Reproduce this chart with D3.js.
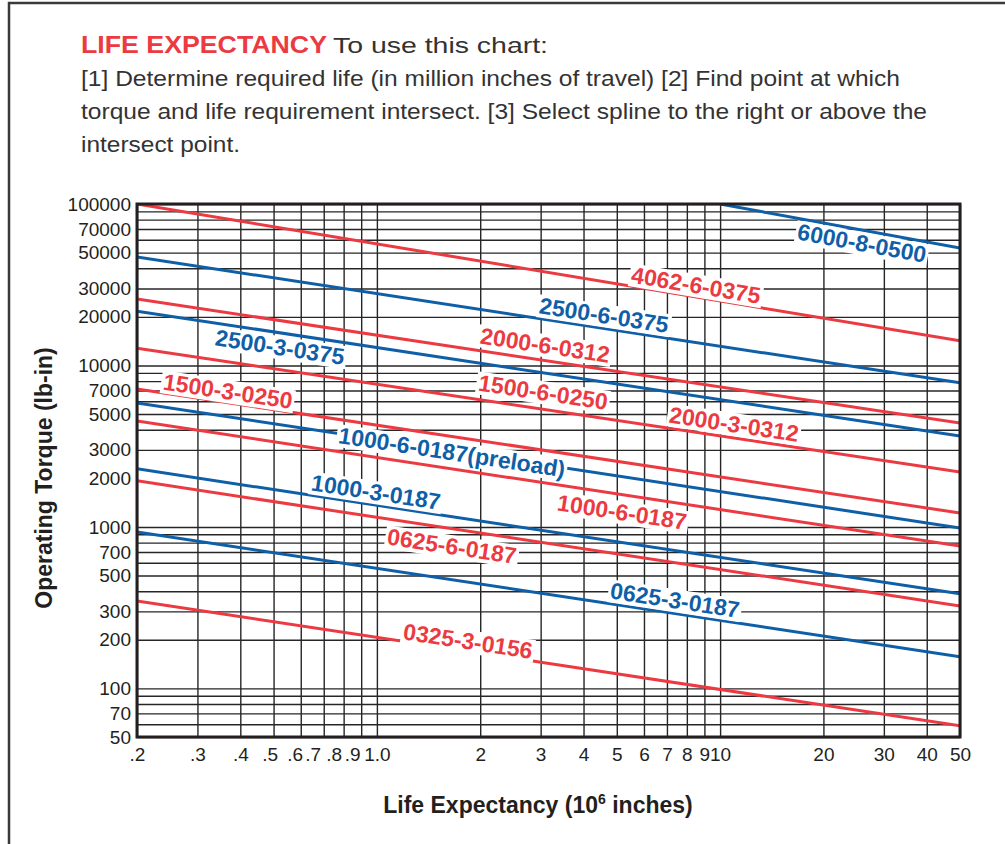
<!DOCTYPE html>
<html>
<head>
<meta charset="utf-8">
<script src="https://cdn.jsdelivr.net/npm/d3@7"></script>
<style>
  body { margin: 0; background: #fff; }
  svg text { font-family: "Liberation Sans", Arial, Helvetica, sans-serif; }
  .grid line { stroke: #262626; stroke-width: 1.4; }
  .grid path { display: none; }
  .ticks path { display: none; }
  .ticks text { font-size: 19px; fill: #231f20; }
</style>
</head>
<body>
<svg id="chart" width="1005" height="844"></svg>
<script>
// x axis: life expectancy (10^6 inches)
const xTicks = [0.2, 0.3, 0.4, 0.5, 0.6, 0.7, 0.8, 0.9, 1, 2, 3, 4, 5, 6, 7, 8, 9, 10, 20, 30, 40, 50];
const xTickLabels = ['.2', '.3', '.4', '.5', '.6', '.7', '.8', '.9', '1.0', '2', '3', '4', '5', '6', '7', '8', '9', '10', '20', '30', '40', '50'];

// y axis: operating torque (lb-in)
const yTicks = [100000, 70000, 50000, 30000, 20000, 10000, 7000, 5000, 3000, 2000, 1000, 700, 500, 300, 200, 100, 70, 50];
const yGrid = [100000, 90000, 80000, 70000, 60000, 50000, 40000, 30000, 20000,
               10000, 9000, 8000, 7000, 6000, 5000, 4000, 3000,
               1000, 900, 800, 700, 600, 500, 400, 300, 200,
               100, 90, 80, 70, 60, 50];

// spline lines, two end points each (life, torque)
const lineGroup   = ['B', 'R', 'B', 'R', 'B', 'R', 'R', 'B', 'R', 'B', 'R', 'B', 'R'];
const lifeStart   = [10, 0.2, 0.2, 0.2, 0.2, 0.2, 0.2, 0.2, 0.2, 0.2, 0.2, 0.2, 0.2];
const torqueStart = [100000, 100000, 47000, 25800, 21700, 12800, 7150, 5860, 4530, 2290, 1930, 931, 348];
const lifeEnd     = [50, 50, 50, 50, 50, 50, 50, 50, 50, 50, 50, 50, 50];
const torqueEnd   = [53400, 14200, 7800, 4400, 3660, 2190, 1220, 986, 762, 385, 324, 157, 58.6];

// labels: text, which line they belong to, where they sit (life, torque)
const labelText   = ['6000-8-0500', '4062-6-0375', '2500-6-0375', '2000-6-0312', '2500-3-0375',
                     '1500-6-0250', '2000-3-0312', '1500-3-0250', '1000-6-0187(preload)',
                     '1000-6-0187', '1000-3-0187', '0625-6-0187', '0625-3-0187', '0325-3-0156'];
const labelLine   = [0, 1, 2, 3, 4, 5, 5, 6, 7, 8, 9, 10, 11, 12];
const labelLife   = [25.9, 8.51, 4.59, 3.09, 0.522, 3.05, 10.98, 0.368, 1.655, 5.18, 0.994, 1.655, 7.39, 1.843];
const labelTorque = [57350, 31520, 20550, 13400, 13020, 6855, 4343, 6950, 2913, 1239, 1647, 762, 353, 197];

(function () {
    'use strict';

    const color = d3.scaleOrdinal().domain(['R', 'B']).range(['#ec3a42', '#0f5fa8']);

    const svg = d3.select('#chart');
    const pLeft = 137, pRight = 960, pTop = 204, pBottom = 737;

    const x = d3.scaleLog().domain([0.2, 50]).range([pLeft, pRight]);
    const y = d3.scaleLog().domain([50, 100000]).range([pBottom, pTop]);

    // page frame
    svg.append('path')
        .attr('d', 'M9,844 V3 H1005')
        .attr('fill', 'none')
        .attr('stroke', '#3a3a3a')
        .attr('stroke-width', 2.5);

    // heading text
    const head = svg.append('g').attr('fill', '#333');
    head.append('text')
        .attr('x', 81).attr('y', 53)
        .attr('font-size', 23).attr('font-weight', 'bold').attr('fill', '#ec3a42')
        .attr('textLength', 246).attr('lengthAdjust', 'spacingAndGlyphs')
        .text('LIFE EXPECTANCY');
    head.append('text').attr('x', 333).attr('y', 53).attr('font-size', 22)
        .attr('textLength', 215).attr('lengthAdjust', 'spacingAndGlyphs')
        .text('To use this chart:');

    const para = [
        ['[1] Determine required life (in million inches of travel) [2] Find point at which', 86, 819],
        ['torque and life requirement intersect. [3] Select spline to the right or above the', 119, 846],
        ['intersect point.', 152, 159]
    ];
    para.forEach(p => {
        head.append('text')
            .attr('x', 81).attr('y', p[1])
            .attr('font-size', 22)
            .attr('textLength', p[2]).attr('lengthAdjust', 'spacingAndGlyphs')
            .text(p[0]);
    });

    // grid
    svg.append('g')
        .attr('class', 'grid')
        .attr('transform', `translate(0, ${pBottom})`)
        .call(d3.axisBottom(x).tickValues(xTicks).tickSize(-(pBottom - pTop)).tickFormat(''));

    svg.append('g')
        .attr('class', 'grid')
        .attr('transform', `translate(${pLeft}, 0)`)
        .call(d3.axisLeft(y).tickValues(yGrid).tickSize(-(pRight - pLeft)).tickFormat(''));

    // tick labels
    const xAxisG = svg.append('g')
        .attr('class', 'ticks')
        .attr('transform', `translate(0, ${pBottom})`)
        .call(d3.axisBottom(x).tickValues(xTicks).tickSize(0).tickPadding(11)
            .tickFormat((d, i) => xTickLabels[i]));

    // the small labels under .5 - .9 sit a bit left of their lines, as in print
    const nudge = { '.5': -4, '.6': -6, '.7': -11, '.8': -10, '.9': -9, '1.0': 0 };
    xAxisG.selectAll('.tick text')
        .attr('dx', d => nudge[xTickLabels[xTicks.indexOf(d)]] || 0);

    svg.append('g')
        .attr('class', 'ticks')
        .attr('transform', `translate(${pLeft}, 0)`)
        .call(d3.axisLeft(y).tickValues(yTicks).tickSize(0).tickPadding(6)
            .tickFormat(d => d));

    svg.selectAll('.ticks').attr('font-family', null).attr('font-size', null);

    // clip for the lines
    svg.append('clipPath').attr('id', 'plotclip')
        .append('rect')
        .attr('x', pLeft).attr('y', pTop)
        .attr('width', pRight - pLeft).attr('height', pBottom - pTop);

    const lines = lineGroup.map((g, i) => ({
        group: g,
        pts: [[lifeStart[i], torqueStart[i]], [lifeEnd[i], torqueEnd[i]]]
    }));

    const lineGen = d3.line().x(d => x(d[0])).y(d => y(d[1]));

    svg.append('g')
        .attr('clip-path', 'url(#plotclip)')
        .selectAll('path')
        .data(lines)
        .enter()
        .append('path')
        .attr('d', d => lineGen(d.pts))
        .attr('fill', 'none')
        .attr('stroke', d => color(d.group))
        .attr('stroke-width', 3);

    // labels along the lines, white box behind
    const labelG = svg.append('g');
    labelText.forEach((t, i) => {
        const ln = lines[labelLine[i]];
        const dx = x(ln.pts[1][0]) - x(ln.pts[0][0]);
        const dy = y(ln.pts[1][1]) - y(ln.pts[0][1]);
        const angle = Math.atan2(dy, dx) * 180 / Math.PI;

        const g = labelG.append('g')
            .attr('transform', `translate(${x(labelLife[i])}, ${y(labelTorque[i])}) rotate(${angle})`);
        const box = g.append('rect').attr('fill', '#fff');
        const txt = g.append('text')
            .attr('text-anchor', 'middle')
            .attr('dy', '0.36em')
            .attr('font-size', 23)
            .attr('font-weight', 'bold')
            .attr('fill', color(ln.group))
            .text(t);
        const bb = txt.node().getBBox();
        box.attr('x', bb.x - 2).attr('y', bb.y + 2)
            .attr('width', bb.width + 4).attr('height', bb.height - 3);
    });

    // plot frame
    svg.append('rect')
        .attr('x', pLeft).attr('y', pTop)
        .attr('width', pRight - pLeft).attr('height', pBottom - pTop)
        .attr('fill', 'none')
        .attr('stroke', '#231f20')
        .attr('stroke-width', 3);

    // axis titles
    svg.append('text')
        .attr('transform', `translate(52, 478) rotate(-90)`)
        .attr('text-anchor', 'middle')
        .attr('font-size', 23)
        .attr('font-weight', 'bold')
        .attr('fill', '#231f20')
        .text('Operating Torque (lb-in)');

    const xt = svg.append('text')
        .attr('x', 538).attr('y', 813)
        .attr('text-anchor', 'middle')
        .attr('font-size', 23)
        .attr('font-weight', 'bold')
        .attr('fill', '#231f20');
    xt.append('tspan').text('Life Expectancy (10');
    xt.append('tspan').attr('font-size', 14).attr('dy', -9).text('6');
    xt.append('tspan').attr('dy', 9).text(' inches)');
}());
</script>
</body>
</html>
